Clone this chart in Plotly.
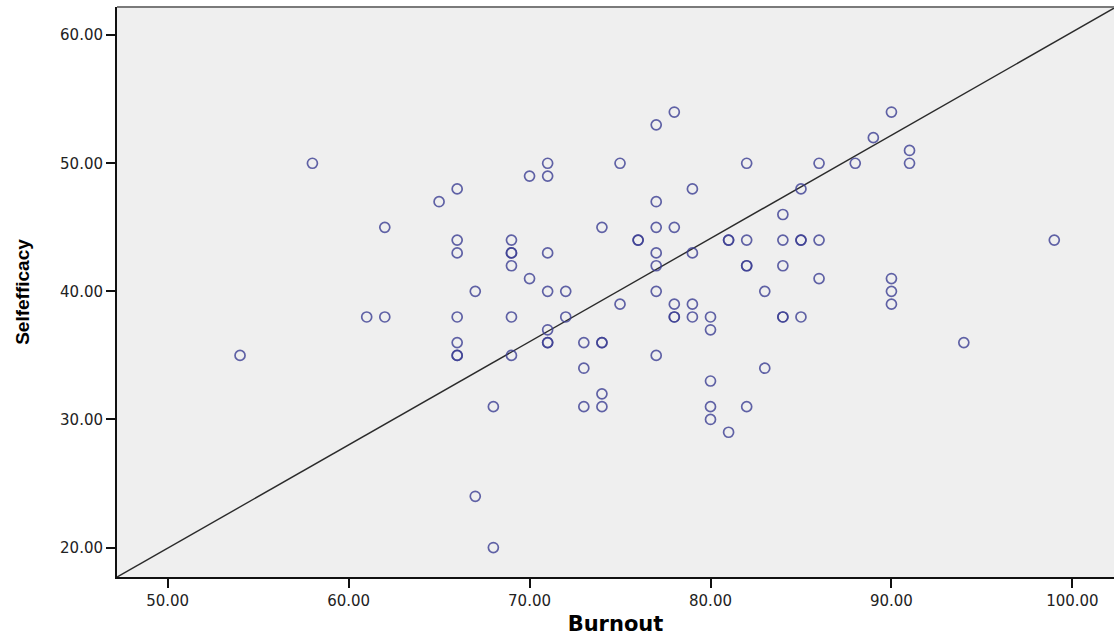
import plotly.graph_objects as go

# Data (Burnout vs Selfefficacy)
burnout = [54, 58, 61, 62, 62, 65, 66, 66, 66, 66, 66, 66, 66, 67, 67, 68, 68,
           69, 69, 69, 69, 69, 69, 70, 70, 71, 71, 71, 71, 71, 71, 71,
           72, 72, 73, 73, 73, 74, 74, 74, 74, 74, 75, 75, 76, 76,
           77, 77, 77, 77, 77, 77, 77, 78, 78, 78, 78, 78, 79, 79, 79, 79,
           80, 80, 80, 80, 80, 81, 81, 81, 82, 82, 82, 82, 82, 83, 83,
           84, 84, 84, 84, 84, 85, 85, 85, 85, 86, 86, 86, 88, 89,
           90, 90, 90, 90, 91, 91, 94, 99]
selfefficacy = [35, 50, 38, 38, 45, 47, 48, 44, 43, 38, 36, 35, 35, 40, 24, 31, 20,
                44, 43, 43, 42, 38, 35, 49, 41, 50, 49, 43, 40, 37, 36, 36,
                40, 38, 36, 34, 31, 45, 36, 36, 32, 31, 50, 39, 44, 44,
                53, 47, 45, 43, 42, 40, 35, 54, 45, 39, 38, 38, 48, 43, 39, 38,
                38, 37, 33, 31, 30, 44, 44, 29, 50, 44, 42, 42, 31, 40, 34,
                46, 44, 42, 38, 38, 48, 44, 44, 38, 50, 44, 41, 50, 52,
                54, 41, 40, 39, 51, 50, 36, 44]

x_ticks = [50, 60, 70, 80, 90, 100]
y_ticks = [20, 30, 40, 50, 60]
x_range = [47.2, 102.3]
y_range = [17.7, 62.2]

# Reference line (runs corner to corner of the plot frame)
line_intercept = -20.35
line_slope = 0.806

fig = go.Figure()

fig.add_trace(go.Scatter(
    x=x_range,
    y=[line_intercept + line_slope * v for v in x_range],
    mode="lines",
    line=dict(color="#2b2b2b", width=1.4),
    hoverinfo="skip",
    showlegend=False,
))

fig.add_trace(go.Scatter(
    x=burnout, y=selfefficacy,
    mode="markers",
    marker=dict(symbol="circle-open", size=10, color="#3b3d92",
                opacity=0.8, line=dict(width=1.7, color="#3b3d92")),
    showlegend=False,
))

tick_font = dict(family="DejaVu Sans, sans-serif", size=15, color="#222222")

fig.update_layout(
    width=1114, height=636,
    margin=dict(l=117, r=0, t=7, b=59),
    paper_bgcolor="white",
    plot_bgcolor="#efefef",
    xaxis=dict(
        range=x_range, tickvals=x_ticks, tickformat=".2f",
        showgrid=False, zeroline=False,
        showline=True, linecolor="#111111", linewidth=2,
        ticks="outside", ticklen=9, tickwidth=1.5, tickcolor="#111111",
        tickfont=tick_font,
        title=dict(text="<b>Burnout</b>",
                   font=dict(family="DejaVu Sans, sans-serif", size=21, color="#000000"),
                   standoff=10),
        automargin=False,
    ),
    yaxis=dict(
        range=y_range, tickvals=y_ticks, tickformat=".2f",
        showgrid=False, zeroline=False,
        showline=True, linecolor="#111111", linewidth=2,
        ticks="outside", ticklen=9, tickwidth=1.5, tickcolor="#111111",
        tickfont=tick_font,
        title=dict(text="<b>Selfefficacy</b>",
                   font=dict(family="Liberation Sans, Arial, sans-serif", size=19, color="#000000"),
                   standoff=25),
        automargin=False,
    ),
    shapes=[dict(type="line", xref="paper", yref="paper", x0=0, x1=1, y0=1, y1=1,
                 line=dict(color="#7a7a7a", width=2))],
)

fig.write_html("out.html",
               config={"displayModeBar": False},
               post_script="document.body.style.margin='0';document.body.style.padding='0';")
